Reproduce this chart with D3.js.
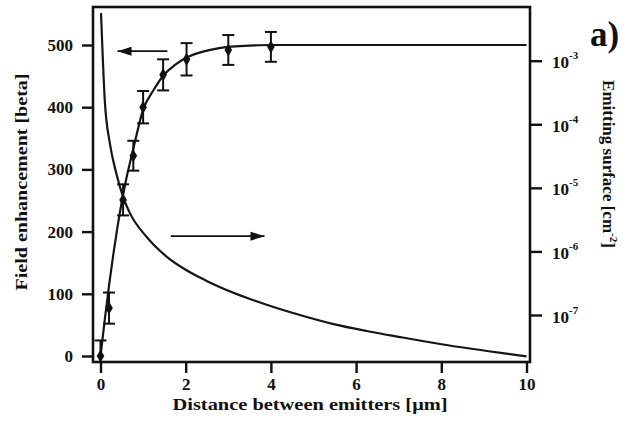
<!DOCTYPE html>
<html><head><meta charset="utf-8">
<script src="https://cdn.jsdelivr.net/npm/d3@7"></script>
<style>
html,body{margin:0;padding:0;background:#fff;}
svg{display:block;}
svg text{font-family:"Liberation Serif","Times New Roman",Times,"DejaVu Serif","Noto Serif",serif !important;font-weight:bold;fill:#111;}
</style></head><body>
<svg id="c" width="628" height="430"></svg>
<script>
// ---- data ----
const xTicks = [0, 2, 4, 6, 8, 10];
const betaTicks = [0, 100, 200, 300, 400, 500];
const surfTickExp = [-3, -4, -5, -6, -7];

// measured field enhancement with error bars
const distance = [0, 0.2, 0.53, 0.77, 1.0, 1.47, 2.02, 3.0, 4.0];
const beta     = [0, 77, 251, 322, 400, 452, 477, 492, 497];
const betaErr  = [25, 25, 25, 24, 26, 25, 26, 24, 24];

// fitted field-enhancement curve
const fitX = [0, 0.1, 0.2, 0.3, 0.4, 0.5, 0.6, 0.7, 0.8, 1.0, 1.25, 1.5, 1.75, 2.0, 2.5, 3.0, 3.5, 4.0, 10];
const fitY = [0, 58, 113, 163, 208, 248, 283, 313, 342, 396, 428, 453, 468, 479, 491, 497, 499, 500, 500];

// emitting surface curve (cm^-2)
const surfX = [0.012, 0.05, 0.1, 0.22, 0.37, 0.53, 0.69, 1.08, 1.55, 2.01, 2.48, 3.12, 3.9, 4.68, 5.47, 6.25, 7.03, 7.97, 10.0];
const surfY = [5.6e-3, 1.26e-3, 2.4e-4, 5.0e-5, 1.7e-5, 7.2e-6, 4.0e-6, 1.7e-6, 8.3e-7, 5.1e-7, 3.47e-7, 2.24e-7, 1.45e-7, 1.0e-7, 7.2e-8, 5.6e-8, 4.5e-8, 3.5e-8, 2.24e-8];

// ---- layout ----
const svg = d3.select("#c");
const L = 93, R = 530, T = 7, B = 362;
const x = d3.scaleLinear().domain([0, 10]).range([100.5, 526.5]);
const yL = d3.scaleLinear().domain([0, 500]).range([356, 45]);
const yR = d3.scaleLog().domain([1e-7, 1e-3]).range([315, 60.7]);

const g = svg.append("g");

// curves
const fitData = fitX.map((d, i) => [d, fitY[i]]);
g.append("path").datum(fitData)
  .attr("fill", "none").attr("stroke", "#151515").attr("stroke-width", 2.2)
  .attr("d", d3.line().x(d => x(d[0])).y(d => yL(d[1])).curve(d3.curveMonotoneX));

const surfData = surfX.map((d, i) => [d, surfY[i]]);
g.append("path").datum(surfData)
  .attr("fill", "none").attr("stroke", "#151515").attr("stroke-width", 2.2)
  .attr("d", d3.line().x(d => x(d[0])).y(d => yR(d[1])).curve(d3.curveMonotoneX));

// error bars
const pts = distance.map((d, i) => ({x: d, y: beta[i], e: betaErr[i]}));
const eb = g.append("g").attr("stroke", "#111").attr("stroke-width", 2);
pts.forEach(p => {
  const cx = x(p.x), y1 = yL(p.y + p.e), y0 = Math.min(yL(p.y - p.e), B);
  eb.append("line").attr("x1", cx).attr("x2", cx).attr("y1", y1).attr("y2", y0);
  eb.append("line").attr("x1", cx - 6).attr("x2", cx + 6).attr("y1", y1).attr("y2", y1);
  if (yL(p.y - p.e) < B) eb.append("line").attr("x1", cx - 6).attr("x2", cx + 6).attr("y1", y0).attr("y2", y0);
});
// markers
g.append("g").selectAll("path").data(pts).join("path")
  .attr("transform", d => `translate(${x(d.x)},${yL(d.y)})`)
  .attr("d", d3.symbol(d3.symbolDiamond, 50))
  .attr("fill", "#111");

// frame
svg.append("rect").attr("x", L).attr("y", T).attr("width", R - L).attr("height", B - T)
  .attr("fill", "none").attr("stroke", "#111").attr("stroke-width", 2.6);

// bottom axis
const ax = svg.append("g").attr("transform", `translate(0,${B})`)
  .call(d3.axisBottom(x).tickValues(xTicks).tickSize(11).tickPadding(5).tickFormat(d3.format("d")));
ax.select(".domain").remove();
ax.selectAll("line").attr("stroke", "#111").attr("stroke-width", 2.4);
ax.selectAll("text").attr("font-size", 17).attr("fill", "#111").attr("dy", "0.7em");

// left axis
const ayl = svg.append("g").attr("transform", `translate(${L},0)`)
  .call(d3.axisLeft(yL).tickValues(betaTicks).tickSize(11).tickPadding(9).tickFormat(d3.format("d")));
ayl.select(".domain").remove();
ayl.selectAll("line").attr("stroke", "#111").attr("stroke-width", 2.4);
ayl.selectAll("text").attr("font-size", 17).attr("fill", "#111");

// right axis (log)
const tickVals = surfTickExp.map(e => Math.pow(10, e));
const ayr = svg.append("g").attr("transform", `translate(${R},0)`)
  .call(d3.axisRight(yR).tickValues(tickVals).tickSize(12).tickFormat(""));
ayr.select(".domain").remove();
ayr.selectAll("line").attr("stroke", "#111").attr("stroke-width", 2.4);
ayr.selectAll(".tick").each(function(d, i) {
  const t = d3.select(this).append("text").attr("x", 22).attr("y", 7)
    .attr("font-size", 17).attr("text-anchor", "start");
  t.append("tspan").text("10");
  t.append("tspan").attr("dy", -9).attr("font-size", 11).text("-" + (-surfTickExp[i]));
});

// arrows
const arrows = svg.append("g");
function arrow(x1, x2, yy) {
  arrows.append("line").attr("x1", x1).attr("x2", x2).attr("y1", yy).attr("y2", yy)
    .attr("stroke", "#111").attr("stroke-width", 1.8);
  const dir = Math.sign(x2 - x1);
  arrows.append("path")
    .attr("d", `M${x2},${yy} L${x2 - dir * 14},${yy - 4.5} L${x2 - dir * 14},${yy + 4.5} Z`)
    .attr("fill", "#111");
}
arrow(x(1.57), x(0.4), yL(490));
arrow(x(1.65), x(3.85), yR(Math.pow(10, -5.76)));

// titles
svg.append("text").attr("x", 310).attr("y", 410).attr("text-anchor", "middle")
  .attr("font-size", 17).attr("textLength", 275).attr("lengthAdjust", "spacingAndGlyphs")
  .text("Distance between emitters [μm]");
svg.append("text").attr("transform", "translate(27,182) rotate(-90)").attr("text-anchor", "middle")
  .attr("font-size", 17).attr("textLength", 217).attr("lengthAdjust", "spacingAndGlyphs")
  .text("Field enhancement [beta]");
const rt = svg.append("text").attr("transform", "translate(603,164) rotate(90)").attr("text-anchor", "middle")
  .attr("font-size", 17);
rt.append("tspan").text("Emitting surface [cm");
rt.append("tspan").attr("dy", -7).attr("font-size", 11).text("-2");
rt.append("tspan").attr("dy", 7).text("]");
svg.append("text").attr("x", 590).attr("y", 46).attr("font-size", 35).text("a)");
</script>
</body></html>
